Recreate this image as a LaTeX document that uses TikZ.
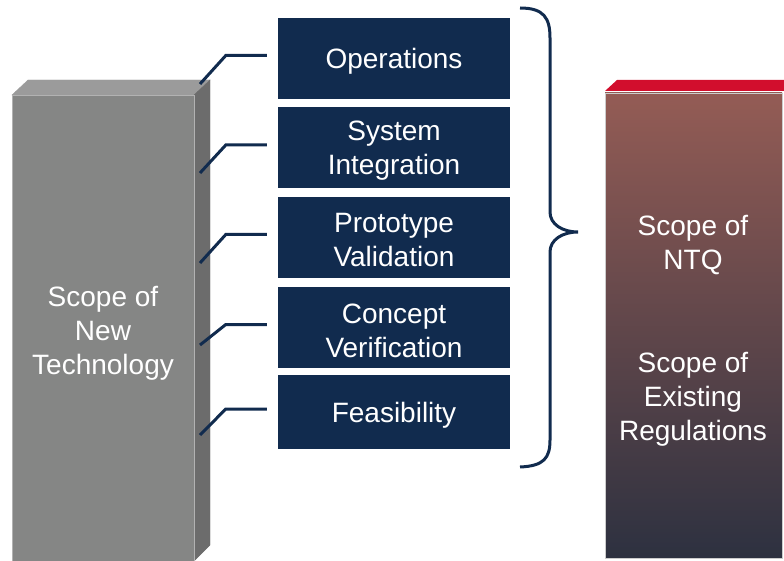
\documentclass[tikz,border=0pt]{standalone}
\usepackage{fontspec}
\setmainfont{Liberation Sans}
\usepackage{tikz}

\definecolor{navy}{HTML}{112B4E}
\definecolor{slabfront}{HTML}{858685}
\definecolor{slabtop}{HTML}{9B9B9B}
\definecolor{slabside}{HTML}{6C6C6C}
\definecolor{ntqred}{HTML}{D20E2D}
\definecolor{ntqtop}{HTML}{945C55}
\definecolor{ntqmid}{HTML}{7C6067}
\definecolor{ntqbottom}{HTML}{2D3140}

\begin{document}
\begin{tikzpicture}[x=1pt, y=-1pt,
    stage/.style={fill=navy, minimum width=232pt, minimum height=81pt, inner sep=0pt},
    lbl/.style={text=white, align=center, font=\fontsize{28}{34}\selectfont},
    link/.style={draw=navy, line width=3pt}]
    \useasboundingbox (0,0) rectangle (784,561);

    % grey column
    \filldraw[fill=slabtop, draw=slabtop] (12,95) -- (28,80) -- (210,80) -- (194,95) -- cycle;
    \filldraw[fill=slabside, draw=slabside] (194,95) -- (210,80) -- (210,545) -- (194,561) -- cycle;
    \filldraw[fill=slabfront, draw=gray!60] (12,95) rectangle (194,561);
    \node[lbl] (tech) at (103,333) {Scope of\\New\\Technology};

    % stages
    \node[stage] (ops) at (394,58.5) {};
    \node[stage] (sys) at (394,148) {};
    \node[stage] (proto) at (394,237.5) {};
    \node[stage] (concept) at (394,327.5) {};
    \node[stage, minimum height=74pt] (feas) at (394,412) {};
    \node[lbl] (opstext) at ([yshift=-3pt]ops.center) {Operations};
    \node[lbl] (systext) at ([yshift=-3pt]sys.center) {System\\Integration};
    \node[lbl] (prototext) at ([yshift=-3pt]proto.center) {Prototype\\Validation};
    \node[lbl] (concepttext) at ([yshift=-3pt]concept.center) {Concept\\Verification};
    \node[lbl] (feastext) at ([yshift=-3pt]feas.center) {Feasibility};

    \coordinate (g1) at (200,84);
    \coordinate (g2) at (200,173);
    \coordinate (g3) at (200,263);
    \coordinate (g4) at (200,345);
    \coordinate (g5) at (200,435);
    \foreach \g/\s in {g1/ops, g2/sys, g3/proto, g4/concept, g5/feas}
        \draw[link] (\g) -- ([shift={(-52,-3)}]\s.west) -- ([shift={(-11,-3)}]\s.west);

    % brace
    \coordinate (tip) at (578,232);
    \draw[navy, line width=3pt] (520,8) .. controls (544,8) and (550,18) .. (550,38)
        -- (550,212) .. controls (550,224) and (562,232) .. (tip)
        .. controls (562,232) and (550,240) .. (550,252)
        -- (550,440) .. controls (550,458) and (544,466) .. (520,467);

    % NTQ column
    \fill[ntqred] (605,91) -- (617,80) -- (784,80) -- (784,91) -- cycle;
    \shade[top color=ntqtop, middle color=ntqmid, bottom color=ntqbottom] (605,93) rectangle (782,558);
    \draw[gray!40] (605,93) rectangle (782,558);
    \node[lbl] (ntq) at (693,245) {Scope of\\NTQ};
    \node[lbl] (regs) at (693,399) {Scope of\\Existing\\Regulations};
\end{tikzpicture}
\end{document}
